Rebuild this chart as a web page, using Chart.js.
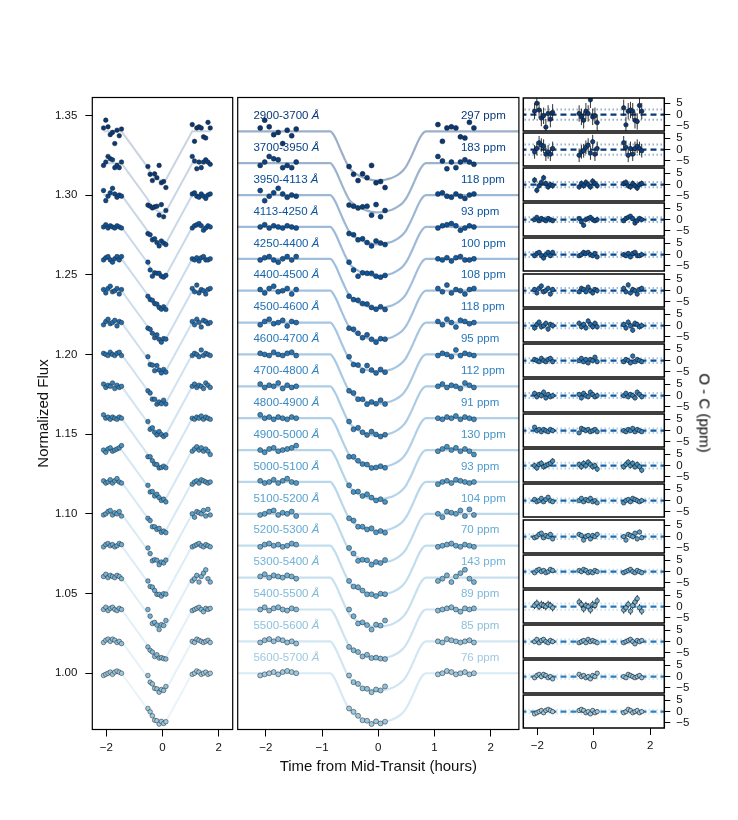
<!DOCTYPE html>
<html>
<head>
<meta charset="utf-8">
<title>Spectroscopic light curves</title>
<script src="https://cdn.jsdelivr.net/npm/chart.js@4.4.1/dist/chart.umd.min.js"></script>
<style>
    html, body { margin: 0; padding: 0; background: #fff; }
    #page { position: relative; width: 738px; height: 820px; overflow: hidden; }
    .box { position: absolute; }
    #ocTitle {
        position: absolute; left: 705px; top: 413px;
        transform: translate(-50%, -50%) rotate(90deg);
        font: 15px "Liberation Sans", Arial, Helvetica, sans-serif;
        white-space: nowrap; color: #000;
    }
</style>
</head>
<body>
<div id="page">
    <div class="box" style="left:0;top:80px;width:240px;height:700px"><canvas id="leftChart"></canvas></div>
    <div class="box" style="left:230px;top:80px;width:300px;height:700px"><canvas id="midChart"></canvas></div>
    <div id="ocPanels"></div>
    <div id="ocTitle">O - C (ppm)</div>
</div>
<script>
    // Wavelength channels, top to bottom
    const bands = ['2900-3700', '3700-3950', '3950-4113', '4113-4250', '4250-4400', '4400-4500',
                   '4500-4600', '4600-4700', '4700-4800', '4800-4900', '4900-5000', '5000-5100',
                   '5100-5200', '5200-5300', '5300-5400', '5400-5500', '5500-5600', '5600-5700'];
    const ppm = [297, 183, 118, 93, 100, 108, 118, 95, 112, 91, 130, 93, 104, 70, 143, 89, 85, 76];
    const offsets = [1.34, 1.32, 1.30, 1.28, 1.26, 1.24, 1.22, 1.20, 1.18,
                     1.16, 1.14, 1.12, 1.10, 1.08, 1.06, 1.04, 1.02, 1.00];
    const colors = ['#083877', '#084184', '#084a92', '#0a539e', '#115ca5', '#1865ac',
                    '#1f6eb3', '#2777b8', '#3080bd', '#3989c2', '#4393c6', '#4e9acb',
                    '#5aa2cf', '#65aad4', '#72b2d7', '#80b9da', '#8ec1de', '#9cc9e1'];

    // Observation times (hours from mid-transit)
    const times = [-2.10, -2.02, -1.94, -1.86, -1.78, -1.70, -1.62, -1.54, -1.46,
                   -0.52, -0.44, -0.36, -0.28, -0.20, -0.12, -0.04, 0.04, 0.12,
                   1.06, 1.14, 1.22, 1.30, 1.38, 1.46, 1.54, 1.62, 1.70];

    // Transit model (flux drop below each baseline)
    const modelT = [-2.6, -0.85, -0.80, -0.75, -0.70, -0.65, -0.60, -0.56, -0.52, -0.44, -0.36, -0.28,
                    -0.20, -0.12, -0.04, 0.04, 0.12, 0.20, 0.28, 0.36, 0.44, 0.50, 0.55, 0.60,
                    0.65, 0.70, 0.75, 0.80, 0.85, 2.6];
    const modelDepth = [0, 0, -0.0020, -0.0052, -0.0092, -0.0133, -0.0172, -0.0202, -0.0228, -0.0256, -0.0274, -0.0288,
                        -0.0298, -0.0305, -0.0309, -0.0308, -0.0304, -0.0297, -0.0286, -0.0270, -0.0246, -0.0218, -0.0185, -0.0148,
                        -0.0108, -0.0068, -0.0034, -0.0010, 0, 0];

    // O - C residuals per channel, one value per observation time
    const residuals = [
        [1.5, 5.0, 2.0, -1.5, -0.5, -5.5, 0.5, -2.0, 1.0,   0.5, -1.0, -2.5, 1.5, 0.5, 6.5, -1.0, -0.5, -3.5,   3.0, -4.5, 1.5, 2.0, 1.5, -2.5, -3.0, 4.0, 1.5],
        [-1.0, 0.5, 3.0, 2.0, 1.5, -2.0, -1.0, -2.0, 0.5,   -2.5, -1.0, -0.5, 1.0, 2.0, -1.5, 3.5, -2.0, 0.5,   3.0, 1.0, -2.5, 0.5, -2.0, 0.5, 1.5, 0.5, -0.5],
        [2.0, -2.5, -0.5, 1.0, 3.0, 0.5, -1.0, 0.0, -0.5,   -1.0, 0.5, -0.5, 1.0, 0.0, -1.0, 1.5, 0.5, -0.5,   0.5, 1.0, -0.5, -1.0, 0.5, -0.5, -1.5, 0.0, 0.5],
        [0.0, 1.0, -0.5, 0.5, 0.0, -0.5, 0.5, 0.0, -0.5,    0.5, -1.0, -2.5, 0.0, 0.5, 1.0, 0.0, -0.5, 0.0,    -0.5, 0.5, 1.0, 1.5, 0.5, -1.5, -0.5, 0.5, 0.0],
        [-0.5, 0.5, 1.0, -0.5, -1.5, 0.0, 1.0, -0.5, 1.0,   -0.5, 0.0, 1.0, 0.5, 1.0, 0.0, -0.5, 0.5, -1.0,    0.0, -0.5, 0.5, -1.0, 0.5, 1.0, -0.5, -0.5, 0.0],
        [0.5, -1.0, 1.0, 2.0, -0.5, 0.0, 1.0, -1.5, 0.5,    -0.5, 1.0, 0.5, -0.5, 1.5, 0.0, -1.0, 0.5, 0.0,    1.0, -0.5, 2.5, -1.0, 0.5, 0.0, -1.5, 0.5, 1.0],
        [-1.0, 0.5, 1.5, -0.5, 0.0, 1.0, -1.5, 0.5, 0.0,    1.0, -0.5, 0.5, -1.0, 2.0, 0.5, -0.5, 1.0, -0.5,   0.5, -1.0, 1.5, 0.0, -2.0, 1.0, 0.5, -0.5, 0.0],
        [0.5, 0.0, -0.5, 1.0, 0.0, -0.5, 0.5, 1.0, -0.5,    0.0, 1.0, -0.5, 0.5, -1.0, 0.5, 0.0, 1.5, -0.5,   -0.5, 0.5, 0.0, -1.0, 2.0, -0.5, 0.5, 0.0, -0.5],
        [1.0, -0.5, 0.5, 0.0, 1.5, -1.0, 0.5, -0.5, 0.0,    0.5, -1.0, 1.0, 0.0, -0.5, 1.5, 0.5, -0.5, 0.0,    0.0, 1.0, -0.5, 0.5, 0.0, -1.0, 1.5, 0.5, -0.5],
        [1.5, 0.0, 0.5, -0.5, 0.5, 0.0, -0.5, 0.5, 0.0,     -1.0, 1.0, 0.5, 0.0, 0.5, -0.5, 0.0, 0.5, -0.5,    0.0, -0.5, 0.5, 0.0, 1.0, -0.5, 0.5, 0.0, -0.5],
        [0.0, -1.0, 0.5, 1.0, -0.5, 0.0, 0.5, 1.0, 2.0,     0.5, -0.5, 1.0, 0.0, 1.5, 0.5, -0.5, 0.0, -1.5,    -0.5, 0.5, 1.5, 0.0, 1.0, -0.5, 0.5, -0.5, -2.0],
        [0.5, -0.5, 0.0, 1.0, -0.5, 0.5, 1.5, 0.0, -0.5,    0.0, 1.0, -0.5, 0.5, 0.0, 1.0, -0.5, 0.0, -1.0,    -1.0, 0.0, 0.5, -0.5, 1.0, 0.5, 0.0, -0.5, 0.0],
        [-0.5, 0.0, 1.0, 1.5, -0.5, 0.5, 0.0, 1.0, -1.0,    1.0, 0.5, -1.5, 0.0, 0.5, -1.0, 0.5, 0.0, 1.0,     0.0, -1.5, 1.0, 0.5, 0.0, 1.5, -1.0, 2.0, -0.5],
        [-0.5, 0.5, 1.0, 0.0, 0.5, -0.5, 0.0, 1.0, 0.5,     0.5, 0.0, 1.0, 0.5, -0.5, 0.0, -0.5, 0.5, 0.0,     -0.5, 0.0, 0.5, 1.0, 0.0, -0.5, 0.5, 0.0, -0.5],
        [0.5, 1.5, 0.0, 1.0, 0.5, 0.0, 1.0, 0.5, -0.5,      2.0, 1.0, -1.0, 0.5, 0.0, -1.5, 1.0, 0.5, 2.5,     -1.5, -0.5, 1.0, -2.0, 0.5, 2.0, 3.5, -0.5, -2.0],
        [0.0, 1.0, -0.5, 0.5, 1.0, 0.0, -0.5, 0.5, 0.0,     -0.5, 0.0, 0.5, -0.5, 1.0, 0.0, 0.5, 0.0, -0.5,    -0.5, 0.0, 0.5, 1.0, 0.0, -1.0, 0.5, 0.0, 0.5],
        [-0.5, 0.5, 1.0, 0.0, 1.0, 0.5, -0.5, 0.0, -1.0,    1.0, 0.0, 0.5, -0.5, 0.0, -1.0, 0.5, 0.0, 1.5,     0.0, -0.5, 1.0, 0.5, 0.0, -0.5, 0.0, 0.5, -0.5],
        [-1.0, -0.5, 0.0, 0.5, -0.5, 0.5, 1.0, 0.5, 0.0,    0.5, 1.0, 0.5, -0.5, 0.0, -1.0, 0.5, -0.5, 0.0,    -0.5, 0.0, 1.0, 0.5, -0.5, 0.0, 0.5, -0.5, 0.0]
    ];
    const errBars = [3.6, 3.0, 1.3, 1.0, 1.0, 1.1, 1.2, 1.0, 1.1, 0.9, 1.3, 0.9, 1.0, 0.8, 1.6, 0.9, 0.9, 0.8];
    const ocBand = [2.3, 2.3, 1.2, 1.0, 1.0, 1.1, 1.2, 1.0, 1.1, 0.9, 1.3, 0.9, 1.0, 0.8, 1.4, 0.9, 0.9, 0.8];
    const fluxPerOC = 0.0014;   // flux change for one O - C unit

    const fluxTicks = [1.00, 1.05, 1.10, 1.15, 1.20, 1.25, 1.30, 1.35];
    const wideTimeTicks = [-2, -1, 0, 1, 2];
    const narrowTimeTicks = [-2, 0, 2];
    const ocTicks = [-5, 0, 5];

    const FONT = '"Liberation Sans", Arial, Helvetica, sans-serif';
    Chart.defaults.font.family = FONT;
    Chart.defaults.font.size = 11.5;
    Chart.defaults.color = '#111';
    Chart.defaults.animation = false;

    function fade(hex, a) {
        const n = parseInt(hex.slice(1), 16);
        return `rgba(${n >> 16}, ${(n >> 8) & 255}, ${n & 255}, ${a})`;
    }
    function modelAt(t) {
        // model is flat (zero) outside the transit window
        const k = modelT.indexOf(t);
        return k >= 0 ? modelDepth[k] : 0;
    }
    function observed(i) {
        return times.map((t, k) => ({ x: t, y: offsets[i] + modelAt(t) + residuals[i][k] * fluxPerOC }));
    }
    function minus(v) { return v < 0 ? '\u2212' + Math.abs(v) : String(v); }
    function fixedTicks(vals) { return s => { s.ticks = vals.map(v => ({ value: v })); }; }
    function tickGrid(len) {
        return { drawOnChartArea: false, drawTicks: true, tickLength: len, color: '#000', lineWidth: 1 };
    }

    // box around each panel
    const frame = {
        id: 'frame',
        afterDraw(chart, args, opts) {
            const { ctx, chartArea: a } = chart;
            ctx.save();
            ctx.strokeStyle = '#000';
            ctx.lineWidth = opts.width || 1.2;
            ctx.strokeRect(a.left, a.top, a.right - a.left, a.bottom - a.top);
            ctx.restore();
        }
    };

    // channel labels in the middle panel
    const bandText = {
        id: 'bandText',
        afterDatasetsDraw(chart) {
            const { ctx, scales: { x, y } } = chart;
            ctx.save();
            ctx.textBaseline = 'alphabetic';
            ctx.textAlign = 'left';
            bands.forEach((b, i) => {
                const py = y.getPixelForValue(offsets[i] + 0.0077);
                const px = x.getPixelForValue(-2.22);
                ctx.fillStyle = colors[i];
                ctx.font = '11.5px ' + FONT;
                const s = b + ' ';
                ctx.fillText(s, px, py);
                const w = ctx.measureText(s).width;
                ctx.fillText(ppm[i] + ' ppm', x.getPixelForValue(1.47), py);
                ctx.font = 'italic 11.5px ' + FONT;
                ctx.fillText('\u00C5', px + w, py);
            });
            ctx.restore();
        }
    };

    // vertical error bars on the residual points
    const errorBars = {
        id: 'errorBars',
        beforeDatasetDraw(chart, args) {
            const ds = chart.data.datasets[args.index];
            if (!ds.errorBar) return;
            const { ctx, chartArea: a, scales: { x, y } } = chart;
            ctx.save();
            ctx.beginPath();
            ctx.rect(a.left, a.top, a.right - a.left, a.bottom - a.top);
            ctx.clip();
            ctx.strokeStyle = '#1a1a1a';
            ctx.lineWidth = 0.9;
            ctx.beginPath();
            ds.data.forEach(p => {
                const px = x.getPixelForValue(p.x);
                ctx.moveTo(px, y.getPixelForValue(p.y - ds.errorBar));
                ctx.lineTo(px, y.getPixelForValue(p.y + ds.errorBar));
            });
            ctx.stroke();
            ctx.restore();
        }
    };

    // Left panel: compressed view, model joined between observation times
    const leftSets = [];
    bands.forEach((b, i) => {
        leftSets.push({
            data: times.map(t => ({ x: t, y: offsets[i] + modelAt(t) })),
            borderColor: fade(colors[i], 0.22), borderWidth: 2, pointRadius: 0, tension: 0, order: 2
        });
        leftSets.push({
            data: observed(i), showLine: false,
            pointRadius: 2.3, pointBackgroundColor: colors[i], pointBorderColor: '#222', pointBorderWidth: 0.5, order: 1
        });
    });

    new Chart(document.getElementById('leftChart'), {
        type: 'line',
        data: { datasets: leftSets },
        options: {
            responsive: true,
            maintainAspectRatio: false,
            layout: { padding: { left: 0, right: 7.3, top: 17.5, bottom: 0 } },
            plugins: { legend: { display: false }, tooltip: { enabled: false }, frame: { width: 1.2 } },
            scales: {
                x: {
                    type: 'linear', min: -2.5, max: 2.5,
                    afterBuildTicks: fixedTicks(narrowTimeTicks),
                    afterFit: s => { s.height = 50.5; },
                    grid: tickGrid(7), border: { display: false },
                    ticks: { padding: 4, maxRotation: 0, callback: minus }
                },
                y: {
                    min: 0.9647, max: 1.3612,
                    afterBuildTicks: fixedTicks(fluxTicks),
                    afterFit: s => { s.width = 92.3; },
                    grid: tickGrid(7), border: { display: false },
                    ticks: { padding: 8, callback: v => v.toFixed(2) },
                    title: { display: true, text: 'Normalized Flux', font: { size: 15 }, padding: { top: 34.5, bottom: 0 } }
                }
            }
        },
        plugins: [frame]
    });

    // Middle panel: full model curves
    const midSets = [];
    bands.forEach((b, i) => {
        midSets.push({
            data: modelT.map((t, k) => ({ x: t, y: offsets[i] + modelDepth[k] })),
            borderColor: fade(colors[i], 0.4), borderWidth: 2.2, pointRadius: 0,
            cubicInterpolationMode: 'monotone', order: 2
        });
        midSets.push({
            data: observed(i), showLine: false,
            pointRadius: 2.5, pointBackgroundColor: colors[i], pointBorderColor: '#222', pointBorderWidth: 0.5, order: 1
        });
    });

    new Chart(document.getElementById('midChart'), {
        type: 'line',
        data: { datasets: midSets },
        options: {
            responsive: true,
            maintainAspectRatio: false,
            layout: { padding: { left: 7.7, right: 11.1, top: 17.5, bottom: 0 } },
            plugins: { legend: { display: false }, tooltip: { enabled: false }, frame: { width: 1.2 } },
            scales: {
                x: {
                    type: 'linear', min: -2.5, max: 2.5,
                    afterBuildTicks: fixedTicks(wideTimeTicks),
                    afterFit: s => { s.height = 50.5; },
                    grid: tickGrid(7), border: { display: false },
                    ticks: { padding: 4, maxRotation: 0, callback: minus },
                    title: { display: true, text: 'Time from Mid-Transit (hours)', font: { size: 15 }, padding: { top: 0, bottom: 4 } }
                },
                y: { display: false, min: 0.9647, max: 1.3612 }
            }
        },
        plugins: [frame, bandText]
    });

    // Right column: one small residual panel per channel
    const ocHolder = document.getElementById('ocPanels');
    const PAD = 16;        // room kept round each small panel for its tick labels
    const AREA_H = 33;     // height of one residual panel
    bands.forEach((b, i) => {
        const last = i === bands.length - 1;
        const top = Math.round(97.8 + 35.15 * i);
        const box = document.createElement('div');
        box.className = 'box';
        box.style.left = '515px';
        box.style.top = (top - PAD) + 'px';
        box.style.width = '223px';
        box.style.height = (PAD + AREA_H + (last ? 50 : PAD)) + 'px';
        const cv = document.createElement('canvas');
        box.appendChild(cv);
        ocHolder.appendChild(box);

        const lineColor = colors[Math.floor(i / 2)];
        new Chart(cv, {
            type: 'line',
            data: {
                datasets: [
                    { data: [{ x: -2.6, y: 0 }, { x: 2.6, y: 0 }], borderColor: lineColor, borderWidth: 2.2,
                      borderDash: [6, 4], pointRadius: 0, order: 3 },
                    { data: [{ x: -2.6, y: ocBand[i] }, { x: 2.6, y: ocBand[i] }], borderColor: fade(colors[i], 0.4),
                      borderWidth: 2, borderDash: [1.5, 2.5], pointRadius: 0, order: 3 },
                    { data: [{ x: -2.6, y: -ocBand[i] }, { x: 2.6, y: -ocBand[i] }], borderColor: fade(colors[i], 0.4),
                      borderWidth: 2, borderDash: [1.5, 2.5], pointRadius: 0, order: 3 },
                    { data: times.map((t, k) => ({ x: t, y: residuals[i][k] })), showLine: false, errorBar: errBars[i],
                      pointRadius: 2.2, pointBackgroundColor: colors[i], pointBorderColor: '#1a1a1a', pointBorderWidth: 0.6, order: 1 }
                ]
            },
            options: {
                responsive: true,
                maintainAspectRatio: false,
                layout: { padding: { left: 8.3, right: 0, top: PAD, bottom: last ? 0 : PAD } },
                plugins: { legend: { display: false }, tooltip: { enabled: false }, frame: { width: 1.5 } },
                scales: {
                    x: {
                        type: 'linear', min: -2.5, max: 2.5, display: last,
                        afterBuildTicks: fixedTicks(narrowTimeTicks),
                        afterFit: s => { if (last) s.height = 50; },
                        grid: tickGrid(7), border: { display: false },
                        ticks: { padding: 4, maxRotation: 0, callback: minus }
                    },
                    y: {
                        position: 'right', min: -7.2, max: 7.3,
                        afterBuildTicks: fixedTicks(ocTicks),
                        afterFit: s => { s.width = 73.7; },
                        grid: tickGrid(6), border: { display: false },
                        ticks: { padding: 6, autoSkip: false, callback: minus }
                    }
                }
            },
            plugins: [frame, errorBars]
        });
    });
</script>
</body>
</html>
